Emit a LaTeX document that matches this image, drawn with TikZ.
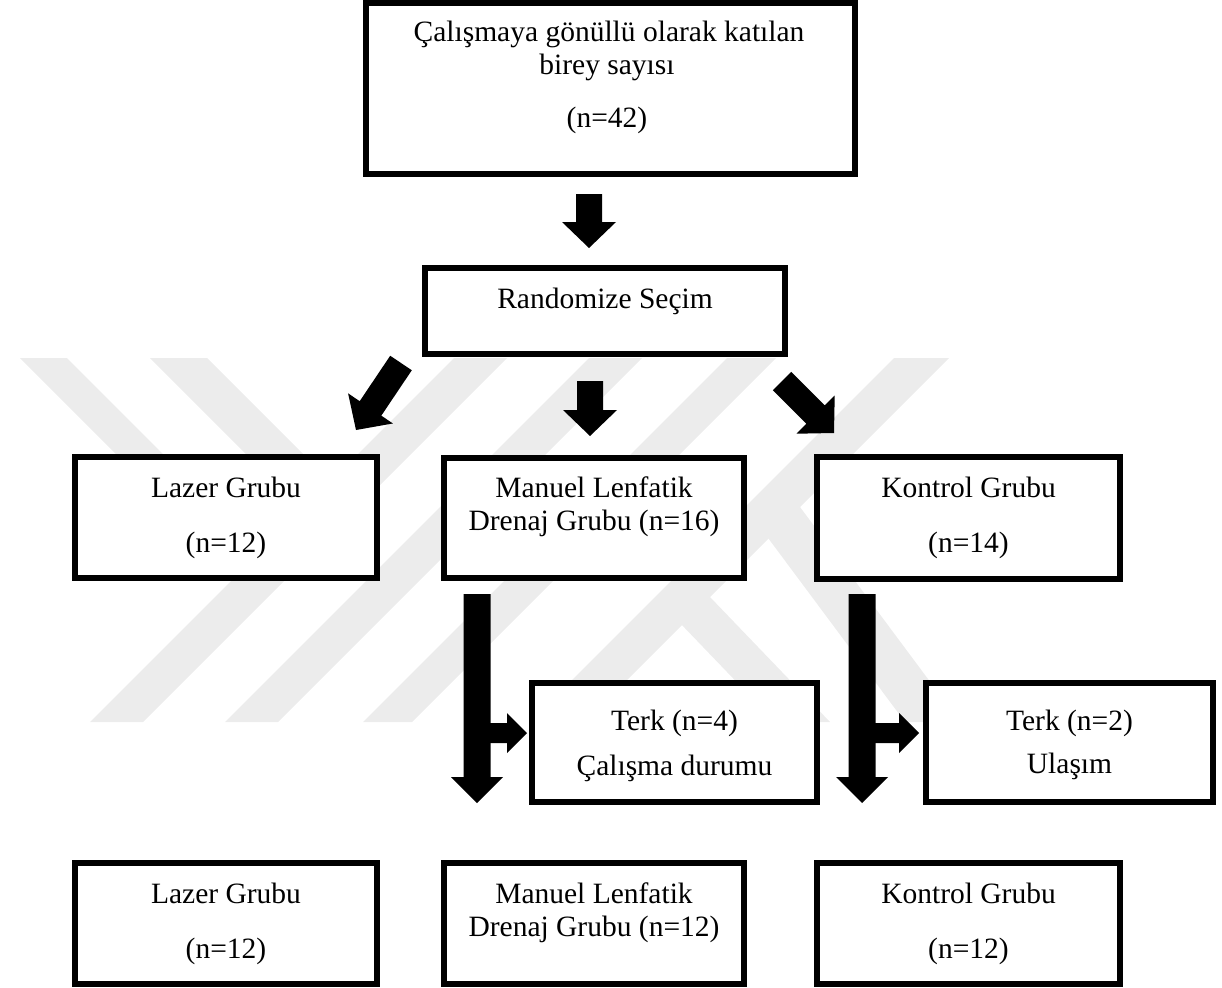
\documentclass[tikz,border=0pt]{standalone}
\usepackage{fontspec}
\setmainfont{Liberation Serif}
\usetikzlibrary{calc}
\definecolor{wm}{gray}{0.925}
% block arrow: #1 start, #2 tip, #3 half shaft, #4 half head, #5 head length
\newcommand{\blockarrow}[5]{%
  \coordinate (#1-#2-h) at ($(#2)!#5!(#1)$);
  \fill[arrowfill] ($(#1)!#3!90:(#2)$) -- ($(#1-#2-h)!#3!-90:(#1)$) -- ($(#1-#2-h)!#4!-90:(#1)$) -- (#2) -- ($(#1-#2-h)!#4!90:(#1)$) -- ($(#1-#2-h)!#3!90:(#1)$) -- ($(#1)!#3!-90:(#2)$) -- cycle;
}
\begin{document}
\begin{tikzpicture}[x=1pt,y=-1pt,
  box/.style={draw=black, line width=6pt, fill=white, inner sep=0pt},
  txt/.style={anchor=base, inner sep=0pt, font=\fontsize{29.5}{35}\selectfont},
  arrowfill/.style={fill=black},
  wmband/.style={fill=wm}]
\useasboundingbox (0,0) rectangle (1222,987);
% watermark
\fill[wmband] (90,722) -- (143,722) -- (507,358) -- (454,358) -- cycle;
\fill[wmband] (225,722) -- (278,722) -- (642,358) -- (589,358) -- cycle;
\fill[wmband] (363,722) -- (412,722) -- (776,358) -- (727,358) -- cycle;
\fill[wmband] (530,722) -- (585,722) -- (949,358) -- (894,358) -- cycle;
\fill[wmband] (20,358) -- (67,358) -- (179,470) -- (132,470) -- cycle;
\fill[wmband] (150,358) -- (207,358) -- (319,470) -- (262,470) -- cycle;
\fill[wmband] (745,507) -- (800,507) -- (960,722) -- (905,722) -- cycle;
\fill[wmband] (655,597) -- (710,597) -- (830,722) -- (775,722) -- cycle;
% boxes
\node[box, minimum width=489pt, minimum height=171pt] (n1) at (610.5,88.5) {};
\node[box, minimum width=360pt, minimum height=86pt] (n2) at (605,311) {};
\node[box, minimum width=302pt, minimum height=121pt] (n3) at (226,517.5) {};
\node[box, minimum width=300pt, minimum height=120pt] (n4) at (594,518) {};
\node[box, minimum width=303pt, minimum height=122pt] (n5) at (968.5,518) {};
\node[box, minimum width=285pt, minimum height=119pt] (n6) at (674.5,742.5) {};
\node[box, minimum width=287pt, minimum height=119pt] (n7) at (1069.5,742.5) {};
\node[box, minimum width=302pt, minimum height=121pt] (n8) at (226,923.5) {};
\node[box, minimum width=300pt, minimum height=121pt] (n9) at (594,923.5) {};
\node[box, minimum width=303pt, minimum height=121pt] (n10) at (968.5,923.5) {};
% texts
\node[txt] (t1a) at (609,42) {Çalışmaya gönüllü olarak katılan};
\node[txt] (t1b) at (607,75) {birey sayısı};
\node[txt] (t1c) at (607,128) {(n=42)};
\node[txt] (t2) at (605,308) {Randomize Seçim};
\node[txt] (t3a) at (226,497) {Lazer Grubu};
\node[txt] (t3b) at (226,552) {(n=12)};
\node[txt] (t4a) at (594,497) {Manuel Lenfatik};
\node[txt] (t4b) at (594,530) {Drenaj Grubu (n=16)};
\node[txt] (t5a) at (968.5,497) {Kontrol Grubu};
\node[txt] (t5b) at (968.5,552) {(n=14)};
\node[txt] (t6a) at (674.5,730) {Terk (n=4)};
\node[txt] (t6b) at (674.5,775) {Çalışma durumu};
\node[txt] (t7a) at (1069.5,730) {Terk (n=2)};
\node[txt] (t7b) at (1069.5,773) {Ulaşım};
\node[txt] (t8a) at (226,903) {Lazer Grubu};
\node[txt] (t8b) at (226,958) {(n=12)};
\node[txt] (t9a) at (594,903) {Manuel Lenfatik};
\node[txt] (t9b) at (594,936) {Drenaj Grubu (n=12)};
\node[txt] (t10a) at (968.5,903) {Kontrol Grubu};
\node[txt] (t10b) at (968.5,958) {(n=12)};
% arrow end points
\coordinate (a1s) at (589,194);  \coordinate (a1t) at (589,248);
\coordinate (a2s) at (590,381);  \coordinate (a2t) at (590,436);
\coordinate (a3s) at (401,363);  \coordinate (a3t) at (356,430);
\coordinate (a4s) at (782,381);  \coordinate (a4t) at (834,433);
\coordinate (a5s) at (477,594);  \coordinate (a5t) at (477,803);
\coordinate (a6s) at (477,733);  \coordinate (a6t) at (527,733);
\coordinate (a7s) at (862,594);  \coordinate (a7t) at (862,803);
\coordinate (a8s) at (862,733);  \coordinate (a8t) at (919,733);
% arrows
\blockarrow{a1s}{a1t}{13pt}{27pt}{26pt}
\blockarrow{a2s}{a2t}{13pt}{27pt}{26pt}
\blockarrow{a3s}{a3t}{13pt}{27pt}{26pt}
\blockarrow{a4s}{a4t}{13pt}{27pt}{26pt}
\blockarrow{a5s}{a5t}{13.5pt}{26pt}{26pt}
\blockarrow{a6s}{a6t}{10pt}{20pt}{20pt}
\blockarrow{a7s}{a7t}{13.5pt}{26pt}{26pt}
\blockarrow{a8s}{a8t}{10pt}{20pt}{20pt}
\end{tikzpicture}
\end{document}
